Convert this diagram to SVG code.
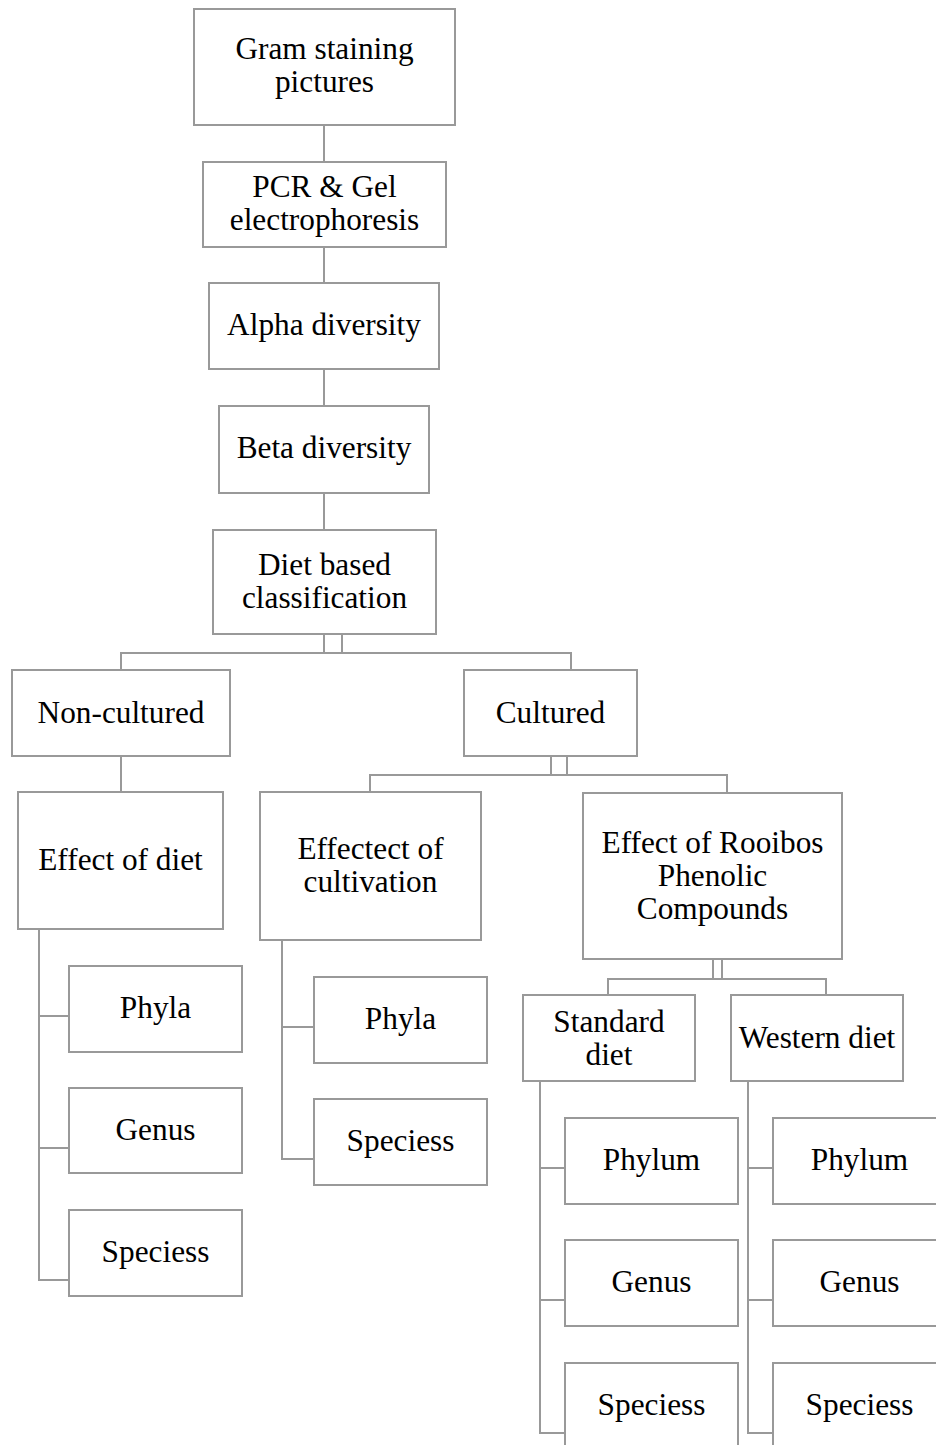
<svg xmlns="http://www.w3.org/2000/svg" width="936" height="1445" viewBox="0 0 936 1445">
<style>
.box{fill:#fff;stroke:#999;stroke-width:2}
.ln{fill:none;stroke:#999;stroke-width:2}
text{font-family:"Liberation Serif","Times New Roman",serif;font-size:31.3px;fill:#000;text-anchor:middle}
</style>
<rect width="936" height="1445" fill="#fff"/>
<g id="connectors">
<path class="ln" d="M324,125V162M324,247V283M324,369V406M324,493V530"/>
<path class="ln" d="M342,634V653H121V670M324,634V653H571V670"/>
<path class="ln" d="M121,756V792"/>
<path class="ln" d="M567,756V775H370V792M551,756V775H727V792"/>
<path class="ln" d="M722,959V979H608V995M713,959V979H826V995"/>
<path class="ln" d="M39,929V1280H69M39,1016H69M39,1148H69"/>
<path class="ln" d="M282,940V1159H314M282,1027H314"/>
<path class="ln" d="M540,1081V1433H565M540,1168H565M540,1300H565"/>
<path class="ln" d="M748,1081V1433H773M748,1168H773M748,1300H773"/>
</g>
<g id="gram"><rect class="box" x="194" y="9" width="261" height="116"/><text x="324.5" y="59">Gram staining</text><text x="324.5" y="92">pictures</text></g>
<g id="pcr"><rect class="box" x="203" y="162" width="243" height="85"/><text x="324.5" y="197">PCR &amp; Gel</text><text x="324.5" y="230">electrophoresis</text></g>
<g id="alpha"><rect class="box" x="209" y="283" width="230" height="86"/><text x="324" y="335">Alpha diversity</text></g>
<g id="beta"><rect class="box" x="219" y="406" width="210" height="87"/><text x="324" y="458">Beta diversity</text></g>
<g id="diet"><rect class="box" x="213" y="530" width="223" height="104"/><text x="324.5" y="575">Diet based</text><text x="324.5" y="608">classification</text></g>
<g id="noncultured"><rect class="box" x="12" y="670" width="218" height="86"/><text x="121" y="723">Non-cultured</text></g>
<g id="cultured"><rect class="box" x="464" y="670" width="173" height="86"/><text x="550.5" y="723">Cultured</text></g>
<g id="effectdiet"><rect class="box" x="18" y="792" width="205" height="137"/><text x="120.5" y="870">Effect of diet</text></g>
<g id="cultivation"><rect class="box" x="260" y="792" width="221" height="148"/><text x="370.5" y="859">Effectect of</text><text x="370.5" y="892">cultivation</text></g>
<g id="rooibos"><rect class="box" x="583" y="793" width="259" height="166"/><text x="712.5" y="853">Effect of Rooibos</text><text x="712.5" y="886">Phenolic</text><text x="712.5" y="919">Compounds</text></g>
<g id="standard"><rect class="box" x="523" y="995" width="172" height="86"/><text x="609" y="1032">Standard</text><text x="609" y="1065">diet</text></g>
<g id="western"><rect class="box" x="731" y="995" width="172" height="86"/><text x="817" y="1048">Western diet</text></g>
<g id="d-phyla"><rect class="box" x="69" y="966" width="173" height="86"/><text x="155.5" y="1018">Phyla</text></g>
<g id="d-genus"><rect class="box" x="69" y="1088" width="173" height="85"/><text x="155.5" y="1140">Genus</text></g>
<g id="d-species"><rect class="box" x="69" y="1210" width="173" height="86"/><text x="155.5" y="1262">Speciess</text></g>
<g id="c-phyla"><rect class="box" x="314" y="977" width="173" height="86"/><text x="400.5" y="1029">Phyla</text></g>
<g id="c-species"><rect class="box" x="314" y="1099" width="173" height="86"/><text x="400.5" y="1151">Speciess</text></g>
<g id="s-phylum"><rect class="box" x="565" y="1118" width="173" height="86"/><text x="651.5" y="1170">Phylum</text></g>
<g id="s-genus"><rect class="box" x="565" y="1240" width="173" height="86"/><text x="651.5" y="1292">Genus</text></g>
<g id="s-species"><rect class="box" x="565" y="1363" width="173" height="86"/><text x="651.5" y="1415">Speciess</text></g>
<g id="w-phylum"><rect class="box" x="773" y="1118" width="173" height="86"/><text x="859.5" y="1170">Phylum</text></g>
<g id="w-genus"><rect class="box" x="773" y="1240" width="173" height="86"/><text x="859.5" y="1292">Genus</text></g>
<g id="w-species"><rect class="box" x="773" y="1363" width="173" height="86"/><text x="859.5" y="1415">Speciess</text></g>
</svg>
